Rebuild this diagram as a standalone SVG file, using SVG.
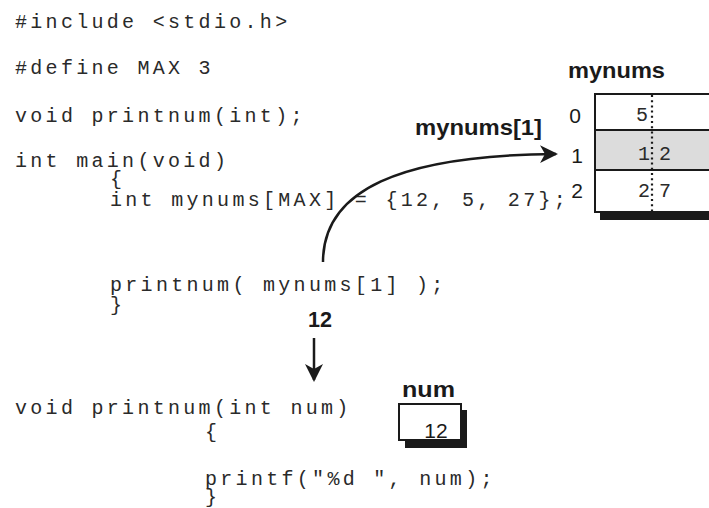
<svg xmlns="http://www.w3.org/2000/svg" width="709" height="508" viewBox="0 0 709 508">
<defs>
<style>
.code{font-family:"Liberation Mono","Courier New",monospace;font-size:20px;letter-spacing:3.3px;fill:#2a2a2a}
.lbl{font-family:"Liberation Sans",Arial,sans-serif;font-weight:bold;font-size:22px;fill:#1a1a1a}
.idx{font-family:"Liberation Sans",Arial,sans-serif;font-size:21px;fill:#1a1a1a}
.cell{fill:#fff;stroke:#1a1a1a;stroke-width:2}
.conn{fill:none;stroke:#1a1a1a;stroke-width:2.5}
</style>
<marker id="ah" markerWidth="20" markerHeight="20" refX="16" refY="9" orient="auto" markerUnits="userSpaceOnUse">
<path d="M0,0 L18,9 L0,18 L5,9 Z" fill="#1a1a1a"/>
</marker>
</defs>
<rect width="709" height="508" fill="#fff"/>
<g id="code">
<text class="code" x="15" y="28">#include &lt;stdio.h&gt;</text>
<text class="code" x="15" y="74">#define MAX 3</text>
<text class="code" x="15" y="122">void printnum(int);</text>
<text class="code" x="15" y="167">int main(void)</text>
<text class="code" x="110" y="185">{</text>
<text class="code" x="110" y="206">int mynums[MAX] = {12, 5, 27};</text>
<text class="code" x="110" y="291">printnum( mynums[1] );</text>
<text class="code" x="110" y="311">}</text>
<text class="code" x="15" y="414">void printnum(int num)</text>
<text class="code" x="205" y="438">{</text>
<text class="code" x="205" y="485">printf("%d ", num);</text>
<text class="code" x="205" y="503">}</text>
</g>
<g id="mynums-array">
<text class="lbl" x="568" y="78" textLength="97" lengthAdjust="spacingAndGlyphs">mynums</text>
<rect x="600" y="208" width="120" height="12" fill="#1a1a1a"/>
<rect class="cell" x="595" y="94" width="125" height="36"/>
<rect x="595" y="130" width="125" height="40" fill="#dcdcdc" stroke="#1a1a1a" stroke-width="2"/>
<rect class="cell" x="595" y="170" width="125" height="42"/>
<line x1="652" y1="95" x2="652" y2="212" stroke="#1a1a1a" stroke-width="2.2" stroke-dasharray="2 3.2"/>
<text class="idx" x="575" y="123" text-anchor="middle">0</text>
<text class="idx" x="577" y="163" text-anchor="middle">1</text>
<text class="idx" x="577" y="198" text-anchor="middle">2</text>
<text class="code" x="636" y="121">5</text>
<text class="code" x="638" y="160">1</text>
<text class="code" x="659" y="160">2</text>
<text class="code" x="638" y="197">2</text>
<text class="code" x="659" y="197">7</text>
</g>
<g id="num-box">
<text class="lbl" x="402" y="397" textLength="53" lengthAdjust="spacingAndGlyphs">num</text>
<rect x="405" y="410" width="62" height="38" fill="#1a1a1a"/>
<rect class="cell" x="399" y="404" width="62" height="36"/>
<text class="idx" x="436" y="438" text-anchor="middle">12</text>
</g>
<g id="connectors">
<path class="conn" d="M323,262 C323,190 400,155 556,154" marker-end="url(#ah)"/>
<text class="lbl" x="415" y="135" textLength="127" lengthAdjust="spacingAndGlyphs">mynums[1]</text>
<line class="conn" x1="314" y1="338" x2="314" y2="380" marker-end="url(#ah)"/>
<text class="lbl" x="308" y="327" textLength="24" lengthAdjust="spacingAndGlyphs">12</text>
</g>
</svg>
